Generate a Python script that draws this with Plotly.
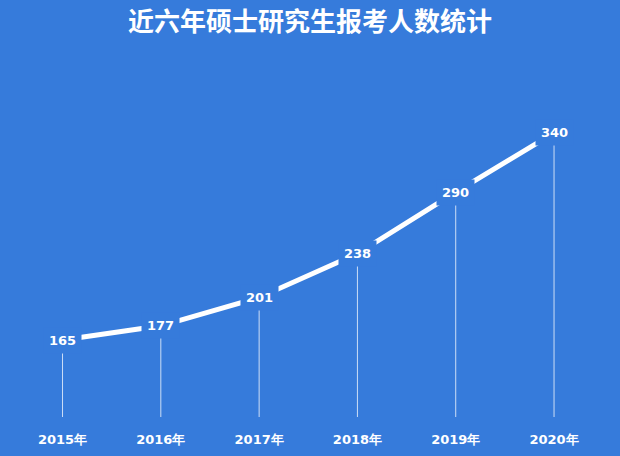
import plotly.graph_objects as go

# data
years = [2015, 2016, 2017, 2018, 2019, 2020]
applicants = [165, 177, 201, 238, 290, 340]  # 万人
year_labels = [f"<b>{y}年</b>" for y in years]
title_text = "近六年硕士研究生报考人数统计"

bg = "#367bdb"
base = 100

# thin vertical drop lines under each point
drop_x, drop_y = [], []
for x, v in zip(years, applicants):
    drop_x += [x, x, None]
    drop_y += [base, v - 10, None]

drop_trace = go.Scatter(
    x=drop_x, y=drop_y, mode="lines",
    line=dict(color="rgba(255,255,255,0.75)", width=1),
    hoverinfo="skip",
)

line_trace = go.Scatter(
    x=years, y=applicants, mode="lines",
    line=dict(color="white", width=5),
    hoverinfo="skip",
)

fig = go.Figure(data=[drop_trace, line_trace])

# value labels sit on the line, with a background to mask it
for x, v in zip(years, applicants):
    fig.add_annotation(
        x=x, y=v, text=f"<b>{v}</b>", showarrow=False,
        font=dict(family="DejaVu Sans", size=13, color="white"),
        bgcolor=bg, borderpad=5,
    )

fig.update_layout(
    width=620, height=456,
    paper_bgcolor=bg, plot_bgcolor=bg,
    showlegend=False,
    margin=dict(l=0, r=0, t=121, b=39),
    title=dict(
        text=f"<b>{title_text}</b>", x=0.5, xanchor="center",
        y=0.952, yanchor="middle",
        font=dict(family="Noto Sans CJK SC", size=26, color="white"),
    ),
    xaxis=dict(
        range=[2014.364, 2020.671], showgrid=False, zeroline=False,
        showline=False, tickmode="array", tickvals=years, ticktext=year_labels,
        ticks="outside", ticklen=10, tickcolor="rgba(0,0,0,0)",
        tickfont=dict(family="DejaVu Sans", size=13, color="white"),
    ),
    yaxis=dict(
        range=[base, 350], showgrid=False, zeroline=False,
        showline=False, showticklabels=False,
    ),
)

fig.write_html(
    "out.html",
    config={"displayModeBar": False},
    post_script="document.body.style.margin='0';",
)
